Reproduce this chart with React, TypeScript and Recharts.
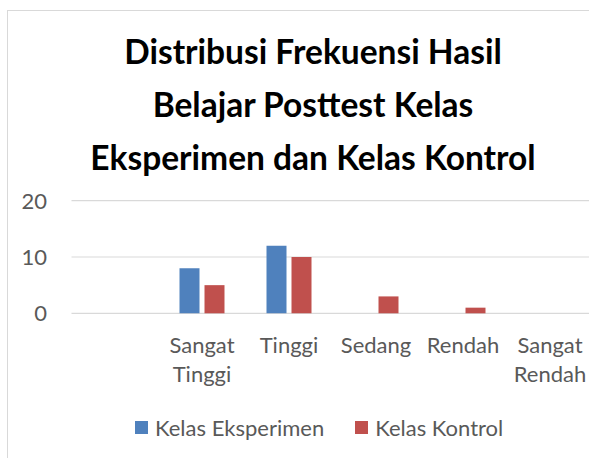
import { Bar, BarChart, CartesianGrid, Legend, XAxis, YAxis } from "recharts"

const CATEGORIES = ["", "Sangat Tinggi", "Tinggi", "Sedang", "Rendah", "Sangat Rendah"]
const EKSPERIMEN = [0, 8, 12, 0, 0, 0]
const KONTROL = [0, 5, 10, 3, 1, 0]
const Y_TICKS = [0, 10, 20]
const TITLE_LINES = ["Distribusi Frekuensi Hasil", "Belajar Posttest Kelas", "Eksperimen dan Kelas Kontrol"]

const SERIES = [
  { key: "eksperimen", name: "Kelas Eksperimen", color: "#4f81bd" },
  { key: "kontrol", name: "Kelas Kontrol", color: "#c0504d" },
]

const FONT = "Lato, 'Open Sans', sans-serif"
const TEXT_GREY = "#595959"
const GRID = "#d9d9d9"

const data = CATEGORIES.map((category, index) => ({
  category,
  eksperimen: EKSPERIMEN[index],
  kontrol: KONTROL[index],
}))

const CategoryTick = ({ x, y, payload }: any) => {
  const words = String(payload.value).split(" ").filter(Boolean)
  return (
    <text x={x} y={y} textAnchor="middle" fill={TEXT_GREY} fontSize={22} fontFamily={FONT}>
      {words.map((word, index) => (
        <tspan key={index} x={x} dy={index === 0 ? 39.5 : 29.5}>
          {word}
        </tspan>
      ))}
    </text>
  )
}

const LegendContent = () => (
  <div style={{ display: "flex", alignItems: "center", paddingLeft: 135, fontFamily: FONT, fontSize: 22, color: TEXT_GREY }}>
    {SERIES.map((s, index) => (
      <div key={s.key} style={{ display: "flex", alignItems: "center", marginRight: index === 0 ? 31 : 0 }}>
        <span style={{ width: 13, height: 13, background: s.color, marginRight: 7, display: "inline-block" }} />
        <span>{s.name}</span>
      </div>
    ))}
  </div>
)

export default function App() {
  return (
    <div style={{ position: "absolute", left: 0, top: 0, width: 589, height: 458, overflow: "hidden", background: "#fff" }}>
      <div
        style={{
          position: "absolute",
          left: 7,
          top: 10,
          width: 640,
          height: 520,
          border: `1px solid ${GRID}`,
          boxSizing: "border-box",
        }}
      />
      <svg width={589} height={190} style={{ position: "absolute", left: 0, top: 0 }}>
        {TITLE_LINES.map((line, index) => (
          <text
            key={line}
            x={313}
            y={64 + index * 53}
            textAnchor="middle"
            fontFamily={FONT}
            fontWeight={700}
            fontSize={33.5}
            fill="#000"
          >
            {line}
          </text>
        ))}
      </svg>
      <div style={{ position: "absolute", left: 0, top: 0 }}>
        <BarChart
          width={600}
          height={458}
          data={data}
          margin={{ top: 200.7, right: 6.5, left: 0, bottom: 0 }}
          barSize={20}
          barGap={5}
        >
          <CartesianGrid vertical={false} stroke={GRID} strokeWidth={1.2} />
          <XAxis
            dataKey="category"
            interval={0}
            axisLine={false}
            tickLine={false}
            tickSize={0}
            tickMargin={0}
            height={144.7}
            tick={<CategoryTick />}
          />
          <YAxis
            width={71.5}
            domain={[0, 20]}
            ticks={Y_TICKS}
            axisLine={false}
            tickLine={false}
            tickSize={0}
            tickMargin={24.5}
            tick={{ fill: TEXT_GREY, fontSize: 22, fontFamily: FONT }}
          />
          <Legend
            layout="horizontal"
            verticalAlign="middle"
            align="center"
            content={<LegendContent />}
            wrapperStyle={{ top: 414, left: 0, width: 600 }}
          />
          {SERIES.map((s) => (
            <Bar key={s.key} dataKey={s.key} name={s.name} fill={s.color} isAnimationActive={false} />
          ))}
        </BarChart>
      </div>
    </div>
  )
}
